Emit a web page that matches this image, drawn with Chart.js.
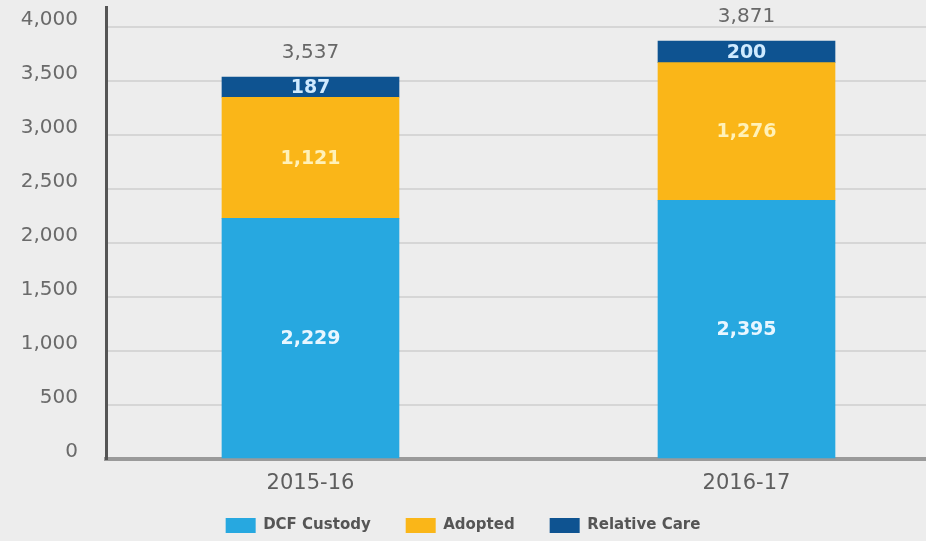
<!DOCTYPE html>
<html>
<head>
<meta charset="utf-8">
<script src="https://cdn.jsdelivr.net/npm/chart.js@4/dist/chart.umd.min.js"></script>
<style>
  html, body { margin: 0; padding: 0; background: #ededed; overflow: hidden; }
  #wrap { width: 926px; height: 541px; }
</style>
</head>
<body>
<div id="wrap"><canvas id="c" width="926" height="541"></canvas></div>
<script>
const categories = ['2015-16', '2016-17'];
const dcfCustody = [2229, 2395];
const adopted = [1121, 1276];
const relativeCare = [187, 200];
const yTicks = [0, 500, 1000, 1500, 2000, 2500, 3000, 3500, 4000];

const totals = categories.map((_, i) => dcfCustody[i] + adopted[i] + relativeCare[i]);
const fmt = v => Number(v).toLocaleString('en-US');

const toPoints = arr => arr.map((v, i) => ({ x: i, y: v }));

const labelPlugin = {
  id: 'segLabels',
  afterLayout(chart) {
    // let the category labels under the axis extend below the short axis box
    chart.scales.x.bottom = chart.height;
  },
  afterDatasetsDraw(chart) {
    const ctx = chart.ctx;
    const textColors = ['#e8f6ff', '#fff1b8', '#cfeaff'];
    ctx.save();
    chart.data.datasets.forEach((ds, di) => {
      const meta = chart.getDatasetMeta(di);
      meta.data.forEach((el, i) => {
        const yc = (el.y + el.base) / 2;
        ctx.font = 'bold 19px "DejaVu Sans"';
        ctx.fillStyle = textColors[di];
        ctx.textAlign = 'center';
        ctx.textBaseline = 'middle';
        ctx.fillText(fmt(ds.data[i].y), el.x, yc + 1);
      });
    });
    const topMeta = chart.getDatasetMeta(chart.data.datasets.length - 1);
    topMeta.data.forEach((el, i) => {
      ctx.font = '20px "DejaVu Sans"';
      ctx.fillStyle = '#686868';
      ctx.textAlign = 'center';
      ctx.textBaseline = 'middle';
      ctx.fillText(fmt(totals[i]), el.x, el.y - 24);
    });
    ctx.restore();
  }
};

new Chart(document.getElementById('c'), {
  type: 'bar',
  data: {
    datasets: [
      { label: 'DCF Custody', data: toPoints(dcfCustody), backgroundColor: '#27a8e0' },
      { label: 'Adopted', data: toPoints(adopted), backgroundColor: '#fab618' },
      { label: 'Relative Care', data: toPoints(relativeCare), backgroundColor: '#0e5391' }
    ]
  },
  options: {
    responsive: false,
    animation: false,
    devicePixelRatio: 1,
    layout: { padding: { top: 7, left: 0, right: 0, bottom: -2 } },
    datasets: { bar: { barThickness: 177, borderWidth: 0 } },
    plugins: {
      legend: {
        position: 'bottom',
        labels: {
          boxWidth: 30,
          boxHeight: 15,
          padding: 35,
          color: '#555555',
          font: { family: '"DejaVu Sans"', size: 15, weight: 'bold' }
        }
      },
      tooltip: { enabled: false }
    },
    scales: {
      x: {
        type: 'linear',
        stacked: true,
        offset: false,
        min: -0.469,
        max: 1.4117,
        afterBuildTicks: s => { s.ticks = categories.map((_, i) => ({ value: i })); },
        afterFit: s => { s.height = 24; s.paddingLeft = 0; s.paddingRight = 0; },
        grid: { display: true, color: 'rgba(0,0,0,0)', drawTicks: false, offset: false },
        border: { display: true, color: '#9a9a9a', width: 4 },
        ticks: {
          autoSkip: false,
          maxRotation: 0,
          padding: 12,
          color: '#5e5e5e',
          font: { family: '"DejaVu Sans"', size: 21 },
          callback: v => categories[v] !== undefined ? categories[v] : ''
        }
      },
      y: {
        stacked: true,
        min: 0,
        max: 4186,
        afterFit: s => { s.width = 106; s.paddingTop = 0; s.paddingBottom = 0; },
        afterBuildTicks: s => { s.ticks = yTicks.map(v => ({ value: v })); },
        grid: { color: '#d6d6d6', lineWidth: 2, drawTicks: false },
        border: { display: true, color: '#555555', width: 3 },
        ticks: {
          autoSkip: false,
          padding: 28,
          labelOffset: -7,
          color: '#6a6a6a',
          font: { family: '"DejaVu Sans"', size: 20 },
          callback: v => fmt(v)
        }
      }
    }
  },
  plugins: [labelPlugin]
});
</script>
</body>
</html>
